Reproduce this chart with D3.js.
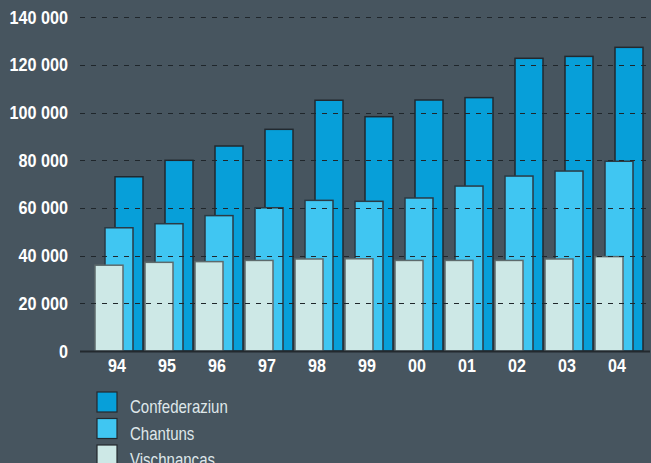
<!DOCTYPE html>
<html>
<head>
<meta charset="utf-8">
<script src="https://cdn.jsdelivr.net/npm/d3@7"></script>
<style>
  html, body { margin: 0; padding: 0; background: #47555f; }
  svg { display: block; }
  .tick-label { font-family: "Liberation Sans", Arial, sans-serif; font-weight: bold; fill: #ffffff; }
  .legend-label { font-family: "Liberation Sans", Arial, sans-serif; fill: #dfe7ea; }
</style>
</head>
<body>
<div id="chart"></div>
<script>
// Years and series values
const years = ["94", "95", "96", "97", "98", "99", "00", "01", "02", "03", "04"];
const confederaziun = [73100, 80000, 86000, 93000, 105200, 98300, 105300, 106300, 122800, 123600, 127400];
const chantuns = [51700, 53400, 56800, 60100, 63200, 62800, 64200, 69200, 73400, 75500, 79600];
const vischnancas = [36000, 37200, 37500, 38000, 38600, 38700, 38000, 38000, 38000, 38600, 39600];
const yTicks = [0, 20000, 40000, 60000, 80000, 100000, 120000, 140000];
const seriesNames = ["Confederaziun", "Chantuns", "Vischnancas"];

const width = 651;
const height = 463;
const colors = { Confederaziun: "#079fd9", Chantuns: "#40c6f2", Vischnancas: "#cde8e6" };
const strokes = { Confederaziun: "#22292f", Chantuns: "#2b3a44", Vischnancas: "#5d6a6c" };

const svg = d3.select("#chart")
    .append("svg")
    .attr("width", width)
    .attr("height", height);

// Scales
const x = d3.scaleBand()
    .domain(years)
    .range([94, 644]);

const y = d3.scaleLinear()
    .domain([0, 140000])
    .range([351, 17.3]);

const barW = 28;
// offset of each series inside its group, relative to the group centre
const offsets = { Vischnancas: -24, Chantuns: -14, Confederaziun: -4 };

const fmt = v => d3.format(",")(v).replace(/,/g, " ");

// Bars, drawn back to front
const order = [
    ["Confederaziun", confederaziun],
    ["Chantuns", chantuns],
    ["Vischnancas", vischnancas],
];

order.forEach(([name, values]) => {
    svg.append("g")
        .selectAll("rect")
        .data(values)
        .enter()
        .append("rect")
        .attr("x", (d, i) => x(years[i]) + x.bandwidth() / 2 + offsets[name])
        .attr("y", d => y(d))
        .attr("width", barW)
        .attr("height", d => y(0) - y(d))
        .attr("fill", colors[name])
        .attr("stroke", strokes[name])
        .attr("stroke-width", 1.5);
});

// Dashed gridlines sit on top of the bars
svg.append("g")
    .selectAll("line")
    .data(yTicks.filter(d => d > 0))
    .enter()
    .append("line")
    .attr("x1", 80)
    .attr("x2", width)
    .attr("y1", d => Math.round(y(d)) + 0.5)
    .attr("y2", d => Math.round(y(d)) + 0.5)
    .attr("stroke", "#1f262b")
    .attr("stroke-width", 1)
    .attr("stroke-dasharray", "5,6");

// Baseline
svg.append("line")
    .attr("x1", 80)
    .attr("x2", width - 1)
    .attr("y1", y(0) + 0.5)
    .attr("y2", y(0) + 0.5)
    .attr("stroke", "#23292e")
    .attr("stroke-width", 2);

// Y tick labels (condensed by a horizontal squeeze)
svg.append("g")
    .selectAll("text")
    .data(yTicks)
    .enter()
    .append("text")
    .attr("class", "tick-label")
    .attr("transform", d => `translate(68, ${y(d) + 6.5}) scale(0.9, 1)`)
    .attr("text-anchor", "end")
    .style("font-size", "18px")
    .text(d => fmt(d));

// X labels
svg.append("g")
    .selectAll("text")
    .data(years)
    .enter()
    .append("text")
    .attr("class", "tick-label")
    .attr("transform", d => `translate(${x(d) + x.bandwidth() / 2 - 2}, 372) scale(0.87, 1)`)
    .attr("text-anchor", "middle")
    .style("font-size", "18.5px")
    .text(d => d);

// Legend
const legend = svg.append("g")
    .selectAll("g")
    .data(seriesNames)
    .enter()
    .append("g")
    .attr("transform", (d, i) => `translate(97, ${392 + i * 26.5})`);

legend.append("rect")
    .attr("width", 20)
    .attr("height", 20)
    .attr("fill", d => colors[d])
    .attr("stroke", "#23292e")
    .attr("stroke-width", 1.2);

legend.append("text")
    .attr("class", "legend-label")
    .attr("transform", "translate(33, 21) scale(0.86, 1)")
    .style("font-size", "17.5px")
    .text(d => d);
</script>
</body>
</html>
